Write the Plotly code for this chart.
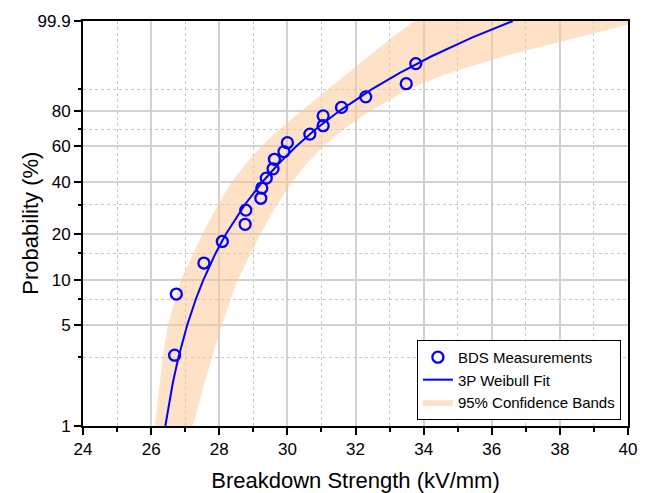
import numpy as np
import plotly.graph_objects as go

# ---- data ----
bds_x = [26.69, 26.74, 27.55, 28.09, 28.76, 28.78, 29.22, 29.25, 29.38, 29.58,
         29.62, 29.90, 30.00, 30.66, 31.05, 31.05, 31.59, 32.30, 33.49, 33.77]
bds_prob = [3.1, 8.1, 13.0, 17.9, 22.9, 27.9, 32.7, 37.3, 42.2, 47.1,
            52.4, 56.8, 62.1, 67.2, 72.1, 77.6, 82.0, 86.9, 91.9, 96.9]

fit_prob = [1, 1.5, 2, 3, 4, 5, 7.5, 10, 15, 20, 30, 40, 50, 60, 70, 80, 90, 95, 98, 99, 99.5, 99.9]
fit_x = [26.417, 26.537, 26.637, 26.803, 26.940, 27.060, 27.314, 27.528, 27.889, 28.201,
         28.750, 29.253, 29.748, 30.262, 30.829, 31.512, 32.484, 33.301, 34.233, 34.859,
         35.433, 36.621]

band_prob = [1, 2, 3, 5, 10, 20, 30, 40, 50, 60, 70, 80, 90, 95, 98, 99, 99.5, 99.9]
band_left_x = [26.11, 26.25, 26.34, 26.49, 26.87, 27.51, 27.97, 28.35, 28.79, 29.23,
               29.77, 30.40, 31.19, 31.77, 32.37, 32.75, 33.08, 33.72]
band_right_x = [27.22, 27.57, 27.78, 28.07, 28.54, 29.21, 29.70, 30.13, 30.57, 31.06,
                31.66, 32.41, 33.56, 34.77, 36.37, 37.50, 38.49, 40.41]

y_major_ticks = [1, 5, 10, 20, 40, 60, 80, 99.9]
y_major_labels = ["1", "5", "10", "20", "40", "60", "80", "99.9"]
y_minor_ticks = [3, 7.5, 15, 30, 70, 90]
x_ticks = [24, 26, 28, 30, 32, 34, 36, 38, 40]


def weibull(p_percent):
    p = np.asarray(p_percent, dtype=float) / 100.0
    return np.log(-np.log(1.0 - p))


FONT = "Liberation Sans, Arial, sans-serif"
BLUE = "#0000FF"
Y_RANGE = [float(weibull(1)), float(weibull(99.9))]

fig = go.Figure()

poly_x = list(band_left_x) + list(band_right_x[::-1])
poly_y = list(weibull(band_prob)) + list(weibull(band_prob[::-1]))
fig.add_trace(go.Scatter(
    x=poly_x, y=poly_y, mode="lines", fill="toself",
    fillcolor="rgba(251,197,145,0.5)", line=dict(width=0, color="rgba(0,0,0,0)"),
    name="95% Confidence Bands", legendrank=3, hoverinfo="skip"))

fig.add_trace(go.Scatter(
    x=fit_x, y=weibull(fit_prob), mode="lines",
    line=dict(color=BLUE, width=2), name="3P Weibull Fit", legendrank=2))

fig.add_trace(go.Scatter(
    x=bds_x, y=weibull(bds_prob), mode="markers",
    marker=dict(symbol="circle-open", size=11, color=BLUE, line=dict(width=2.3, color=BLUE)),
    name="BDS Measurements", legendrank=1))

# empty helper trace so the minor-tick overlay axis exists
fig.add_trace(go.Scatter(x=[None], y=[None], yaxis="y2", showlegend=False, hoverinfo="skip"))

fig.update_layout(
    width=659, height=493,
    margin=dict(l=83, r=31, t=21, b=67, autoexpand=False),
    paper_bgcolor="white", plot_bgcolor="white",
    font=dict(family=FONT, size=17, color="black"),
    showlegend=True,
    legend=dict(x=0.987, y=0.015, xanchor="right", yanchor="bottom",
                bgcolor="white", bordercolor="black", borderwidth=1,
                font=dict(family=FONT, size=15, color="black"),
                tracegroupgap=0, itemwidth=30),
    yaxis2=dict(overlaying="y", side="left", range=Y_RANGE, tickmode="array",
                tickvals=list(weibull(y_minor_ticks)), showticklabels=False,
                ticks="outside", ticklen=4, tickwidth=1.5, tickcolor="black",
                showgrid=True, gridcolor="#C8C8C8", griddash="dot", gridwidth=1,
                zeroline=False, showline=False, automargin=False, fixedrange=True),
    annotations=[dict(text="Probability (%)", xref="paper", yref="paper",
                      x=-0.097, y=0.5, xanchor="center", yanchor="middle",
                      textangle=-90, showarrow=False,
                      font=dict(family=FONT, size=22, color="black"))],
)

fig.update_xaxes(
    range=[24, 40], tickvals=x_ticks, ticktext=[str(v) for v in x_ticks],
    showline=True, linecolor="black", linewidth=2, mirror=True,
    ticks="outside", ticklen=7, tickwidth=1.5, tickcolor="black",
    showgrid=True, gridcolor="#D2D2D2", gridwidth=1.5, zeroline=False,
    minor=dict(tickmode="linear", tick0=25, dtick=2, ticks="outside", ticklen=4,
               tickwidth=1.5, tickcolor="black", showgrid=True,
               gridcolor="#C8C8C8", griddash="dot", gridwidth=1),
    title=dict(text="Breakdown Strength (kV/mm)", font=dict(family=FONT, size=22)),
    tickfont=dict(family=FONT, size=17), automargin=False,
)

fig.update_layout(yaxis=dict(
    range=Y_RANGE,
    tickmode="array", tickvals=list(weibull(y_major_ticks)), ticktext=y_major_labels,
    showline=True, linecolor="black", linewidth=2, mirror=True,
    ticks="outside", ticklen=7, tickwidth=1.5, tickcolor="black",
    showgrid=True, gridcolor="#D2D2D2", gridwidth=1.5, zeroline=False,
    tickfont=dict(family=FONT, size=17), automargin=False,
))

fig.write_html("out.html", config={"displayModeBar": False},
               post_script="document.body.style.margin='0';document.body.style.padding='0';")
